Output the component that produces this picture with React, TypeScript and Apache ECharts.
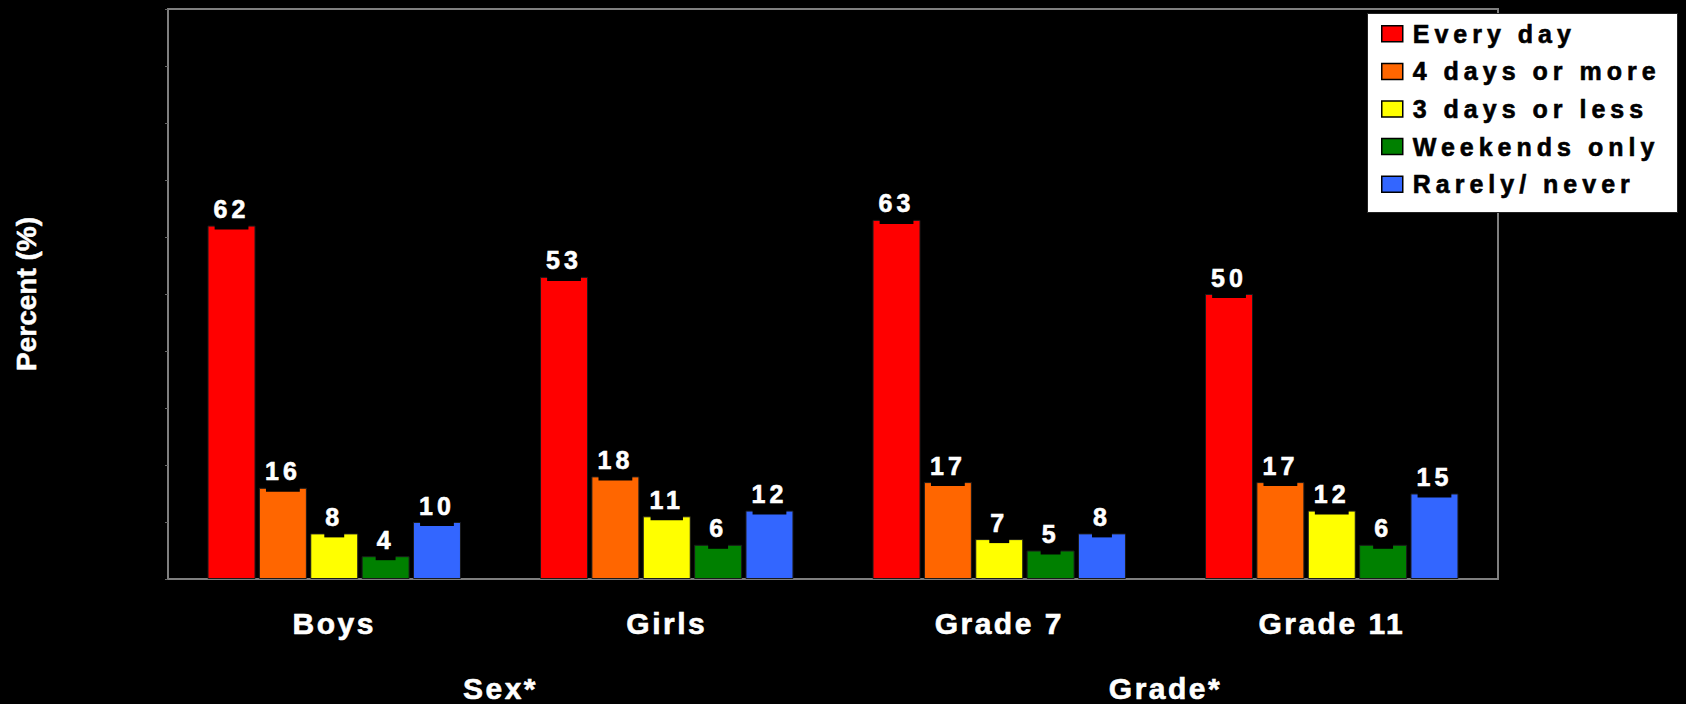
import React, { useEffect, useRef } from 'react';
import * as echarts from 'echarts';

const categories = ['Boys', 'Girls', 'Grade 7', 'Grade 11'];
const groupLabels = ['Sex*', 'Grade*'];
const seriesNames = ['Every day', '4 days or more', '3 days or less', 'Weekends only', 'Rarely/ never'];
const everyDay = [62, 53, 63, 50];
const fourDaysOrMore = [16, 18, 17, 17];
const threeDaysOrLess = [8, 11, 7, 12];
const weekendsOnly = [4, 6, 5, 6];
const rarelyNever = [10, 12, 8, 15];
const seriesColors = ['#FF0000', '#FF6600', '#FFFF00', '#008000', '#3366FF'];
const yMin = 0;
const yMax = 100;
const yInterval = 10;

const FONT = "'Liberation Sans', Arial, Helvetica, sans-serif";

export default function App() {
  const ref = useRef<HTMLDivElement>(null);

  useEffect(() => {
    if (!ref.current) return;
    const chart = echarts.init(ref.current, undefined, { renderer: 'svg' });
    const values = [everyDay, fourDaysOrMore, threeDaysOrLess, weekendsOnly, rarelyNever];
    chart.setOption({
      animation: false,
      backgroundColor: '#000000',
      textStyle: { fontFamily: FONT },
      grid: {
        left: 168,
        right: 188,
        top: 9,
        bottom: 125,
        show: true,
        borderColor: '#7f7f7f',
        borderWidth: 2,
        containLabel: false,
      },
      legend: {
        data: seriesNames,
        orient: 'vertical',
        left: 1381,
        top: 21,
        padding: 0,
        itemWidth: 21,
        itemHeight: 16,
        itemGap: 12,
        icon: 'rect',
        z: 100,
        itemStyle: { borderColor: '#000000', borderWidth: 1.5 },
        textStyle: {
          color: '#000000',
          fontSize: 25,
          fontWeight: 'bold',
          fontFamily: FONT,
          lineHeight: 24,
          padding: [0, 0, 0, 5],
          textBorderColor: '#000000',
          textBorderWidth: 0.6,
        },
      },
      graphic: [
        {
          type: 'rect',
          left: 1367,
          top: 13,
          z: 50,
          shape: { width: 310, height: 199 },
          style: { fill: '#ffffff', stroke: '#222222', lineWidth: 1 },
        },
      ],
      xAxis: [
        {
          type: 'category',
          data: categories,
          axisLine: { show: true, lineStyle: { color: '#7f7f7f', width: 2 } },
          axisTick: { show: false },
          axisLabel: {
            color: '#fffffe',
            fontSize: 30,
            fontWeight: 'bold',
            fontFamily: FONT,
            margin: 29,
            textBorderColor: '#fffffe',
            textBorderWidth: 0.6,
          },
          splitLine: { show: false },
        },
        {
          type: 'category',
          data: groupLabels,
          position: 'bottom',
          axisLine: { show: false },
          axisTick: { show: false },
          axisLabel: {
            color: '#fffffe',
            fontSize: 30,
            fontWeight: 'bold',
            fontFamily: FONT,
            margin: 94,
            textBorderColor: '#fffffe',
            textBorderWidth: 0.6,
          },
          splitLine: { show: false },
        },
      ],
      yAxis: {
        type: 'value',
        min: yMin,
        max: yMax,
        interval: yInterval,
        axisLine: { show: true, lineStyle: { color: '#7f7f7f', width: 2 } },
        axisTick: { show: true, length: 3, lineStyle: { color: '#666666' } },
        axisLabel: { show: false },
        splitLine: { show: false },
        name: 'Percent (%)',
        nameLocation: 'middle',
        nameRotate: 90,
        nameGap: 128,
        nameTextStyle: {
          color: '#fefefe',
          fontSize: 28,
          fontWeight: 'bold',
          fontFamily: FONT,
          textBorderColor: '#fefefe',
          textBorderWidth: 0.5,
        },
      },
      series: values.map((vals, i) => ({
        name: seriesNames[i],
        type: 'bar',
        xAxisIndex: 0,
        data: vals,
        barWidth: 48,
        barGap: '7%',
        itemStyle: { color: seriesColors[i], borderColor: '#1a1a1a', borderWidth: 1 },
        label: {
          show: true,
          position: 'top',
          distance: -4,
          color: '#ffffff',
          fontSize: 25,
          fontWeight: 'bold',
          fontFamily: FONT,
          backgroundColor: '#000000',
          padding: [2, 3, 8, 3],
          textBorderColor: '#ffffff',
          textBorderWidth: 0.6,
        },
      })),
    });
    return () => chart.dispose();
  }, []);

  return (
    <>
      <style>{`
        #chart-root text[fill="#000000"] { letter-spacing: 5px; }
        #chart-root text[fill="#ffffff"] { letter-spacing: 4px; }
        #chart-root text[fill="#fffffe"] { letter-spacing: 2.5px; }
        body { margin: 0; background: #000; }
      `}</style>
      <div
        id="chart-root"
        ref={ref}
        style={{ position: 'absolute', left: 0, top: 0, width: 1686, height: 704, background: '#000' }}
      />
    </>
  );
}
